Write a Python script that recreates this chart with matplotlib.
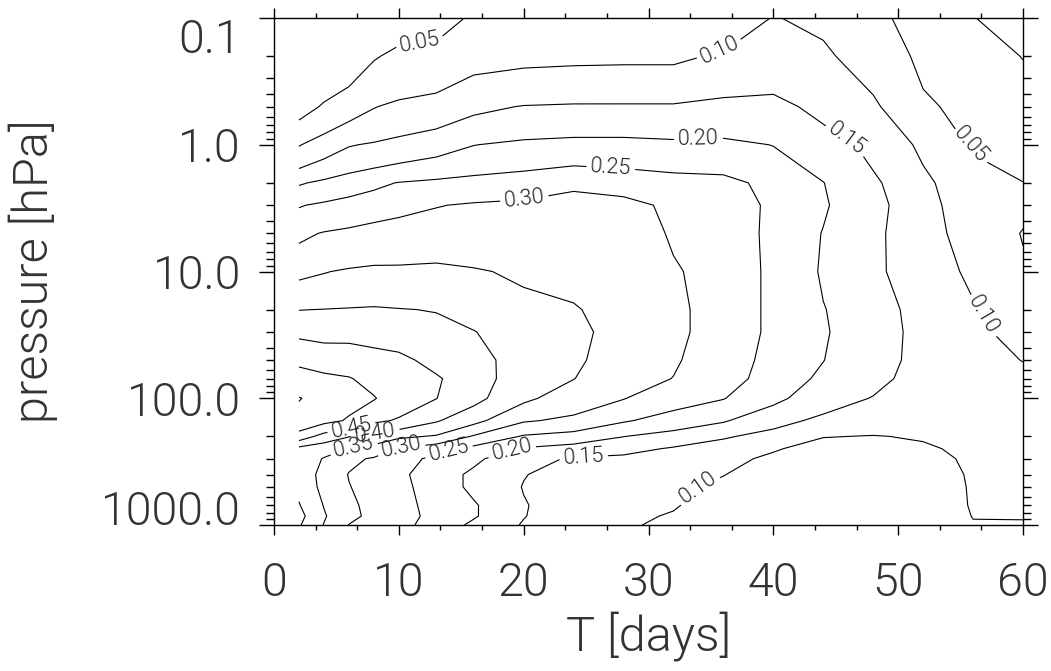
import numpy as np
import matplotlib
matplotlib.use("Agg")
import matplotlib.pyplot as plt
from matplotlib.ticker import MultipleLocator, FixedLocator, NullFormatter

plt.rcParams['font.family'] = ['Roboto', 'DejaVu Sans']
plt.rcParams['font.weight'] = 300
plt.rcParams['axes.labelweight'] = 300

# lead time of each column (days) and pressure of each row (hPa)
days = [2, 4, 6, 8, 10, 13, 16, 20, 24, 28, 32, 36, 40, 44, 48, 52, 56, 60]
pres = [1000, 850, 700, 500, 400, 300, 250, 200, 150, 100, 70, 50, 30, 20, 10,
        5, 3, 2, 1, 0.5, 0.2, 0.1]

# one column per lead time, from 1000 hPa up to 0.1 hPa
t02 = [0.405, 0.415, 0.403, 0.39, 0.38, 0.38, 0.385, 0.48, 0.535, 0.552, 0.52,
       0.49, 0.44, 0.399, 0.34, 0.29, 0.247, 0.195, 0.097, 0.032, 0.015, 0.01]
t04 = [0.348, 0.355, 0.348, 0.335, 0.335, 0.347, 0.37, 0.43, 0.515, 0.535, 0.51,
       0.48, 0.435, 0.401, 0.348, 0.303, 0.258, 0.21, 0.125, 0.0545, 0.02, 0.01]
t06 = [0.299, 0.31, 0.31, 0.302, 0.298, 0.31, 0.348, 0.402, 0.495, 0.515, 0.503,
       0.475, 0.437, 0.403, 0.355, 0.31, 0.268, 0.225, 0.147, 0.0787, 0.022, 0.012]
t08 = [0.285, 0.29, 0.285, 0.28, 0.28, 0.295, 0.33, 0.385, 0.46, 0.503, 0.485,
       0.465, 0.435, 0.405, 0.358, 0.32, 0.275, 0.24, 0.155, 0.098, 0.047, 0.025]
t10 = [0.265, 0.27, 0.27, 0.265, 0.26, 0.275, 0.295, 0.36, 0.445, 0.475, 0.47,
       0.46, 0.43, 0.402, 0.357, 0.325, 0.285, 0.252, 0.165, 0.11, 0.058, 0.035]
t13 = [0.23, 0.235, 0.23, 0.225, 0.225, 0.235, 0.27, 0.345, 0.405, 0.451, 0.455,
       0.437, 0.415, 0.398, 0.36, 0.325, 0.298, 0.26, 0.18, 0.12, 0.065, 0.035]
t16 = [0.19, 0.205, 0.205, 0.19, 0.19, 0.21, 0.235, 0.295, 0.365, 0.415, 0.425,
       0.42, 0.402, 0.38, 0.353, 0.33, 0.305, 0.267, 0.199, 0.14, 0.085, 0.055]
t20 = [0.146, 0.152, 0.153, 0.148, 0.152, 0.165, 0.195, 0.245, 0.305, 0.36, 0.37,
       0.375, 0.37, 0.36, 0.345, 0.33, 0.31, 0.275, 0.21, 0.152, 0.09, 0.06]
t24 = [0.115, 0.12, 0.125, 0.125, 0.13, 0.145, 0.18, 0.23, 0.29, 0.325, 0.351,
       0.357, 0.36, 0.353, 0.34, 0.33, 0.32, 0.29, 0.215, 0.155, 0.092, 0.065]
t28 = [0.103, 0.105, 0.11, 0.115, 0.12, 0.14, 0.165, 0.201, 0.255, 0.302, 0.32,
       0.33, 0.335, 0.335, 0.33, 0.325, 0.315, 0.28, 0.215, 0.155, 0.093, 0.07]
t32 = [0.095, 0.098, 0.102, 0.108, 0.115, 0.13, 0.145, 0.18, 0.23, 0.27, 0.299,
       0.305, 0.31, 0.31, 0.305, 0.295, 0.29, 0.27, 0.21, 0.155, 0.093, 0.075]
t36 = [0.085, 0.085, 0.088, 0.092, 0.101, 0.115, 0.13, 0.155, 0.205, 0.252, 0.27,
       0.275, 0.28, 0.28, 0.28, 0.275, 0.27, 0.265, 0.21, 0.165, 0.105, 0.085]
t40 = [0.073, 0.073, 0.075, 0.078, 0.082, 0.09, 0.105, 0.135, 0.165, 0.213, 0.23,
       0.235, 0.24, 0.24, 0.24, 0.24, 0.243, 0.235, 0.199, 0.165, 0.12, 0.101]
t44 = [0.062, 0.062, 0.062, 0.065, 0.068, 0.072, 0.08, 0.102, 0.14, 0.17, 0.19,
       0.201, 0.205, 0.202, 0.195, 0.198, 0.205, 0.201, 0.175, 0.135, 0.105, 0.095]
t48 = [0.065, 0.065, 0.065, 0.067, 0.07, 0.075, 0.082, 0.098, 0.125, 0.148, 0.162,
       0.163, 0.168, 0.17, 0.16, 0.16, 0.165, 0.158, 0.138, 0.107, 0.085, 0.065]
t52 = [0.075, 0.075, 0.075, 0.075, 0.078, 0.085, 0.094, 0.104, 0.115, 0.128, 0.133,
       0.14, 0.138, 0.133, 0.122, 0.12, 0.118, 0.112, 0.09, 0.06, 0.038, 0.025]
t56 = [0.098, 0.101, 0.103, 0.104, 0.105, 0.108, 0.11, 0.112, 0.115, 0.118, 0.117,
       0.115, 0.11, 0.105, 0.092, 0.078, 0.07, 0.062, 0.048, 0.03, 0.015, 0.002]
t60 = [0.097, 0.102, 0.106, 0.11, 0.115, 0.12, 0.122, 0.125, 0.125, 0.12, 0.11,
       0.099, 0.085, 0.07, 0.056, 0.048, 0.058, 0.0505, 0.038, 0.02, -0.001, -0.03]

levels = [0.0, 0.05, 0.10, 0.15, 0.20, 0.25, 0.30, 0.35, 0.40, 0.45, 0.50, 0.55]

# where the contour labels sit, per level: [(day, hPa), ...]
label_spots = {
    0.05: [(11.7, 0.155), (55.8, 1.0)],
    0.10: [(35.6, 0.166), (57.2, 21.0), (33.9, 500.0)],
    0.15: [(45.9, 0.88), (24.8, 290.0)],
    0.20: [(34.0, 0.85), (19.0, 247.0)],
    0.25: [(27.0, 1.42), (14.1, 281.0)],
    0.30: [(20.0, 2.49), (10.2, 251.0)],
    0.35: [(6.4, 247.0)],
    0.40: [(7.9, 138.0)],
    0.45: [(5.9, 128.0)],
}

field = np.column_stack([t02, t04, t06, t08, t10, t13, t16, t20, t24, t28,
                         t32, t36, t40, t44, t48, t52, t56, t60])

fig = plt.figure(figsize=(10.51, 6.71), dpi=100)
ax = fig.add_axes([274 / 1051, 1 - 525 / 671, 749 / 1051, 507 / 671])

ax.set_yscale('log')
ax.set_xlim(0, 60)
ax.set_ylim(1000, 0.1)

# one contour set per level so each label lands on its own line
for lev in levels:
    cs = ax.contour(days, pres, field, levels=[lev], colors='k', linewidths=0.8)
    if lev in label_spots:
        ax.clabel(cs, manual=label_spots[lev], fmt='%.2f', fontsize=15.5,
                  inline=True, inline_spacing=4, colors='#222222')

# axes, ticks
ax.xaxis.set_major_locator(FixedLocator([0, 10, 20, 30, 40, 50, 60]))
ax.xaxis.set_minor_locator(MultipleLocator(10 / 3))
ax.yaxis.set_major_locator(FixedLocator([0.1, 1, 10, 100, 1000]))
ax.yaxis.set_minor_locator(FixedLocator([m * 10.0 ** k for k in range(-1, 3) for m in range(2, 10)]))
ax.yaxis.set_minor_formatter(NullFormatter())
ax.set_yticklabels(['0.1', '1.0', '10.0', '100.0', '1000.0'])

for s in ax.spines.values():
    s.set_linewidth(1.0)
ax.tick_params(which='both', direction='out', top=True, right=True, width=1.0)
ax.tick_params(axis='x', which='major', length=7.2, labelsize=33.5, pad=18.5, labelcolor='#333333')
ax.tick_params(axis='x', which='minor', length=3.6)
ax.tick_params(axis='y', which='major', length=10.8, labelsize=33.5, pad=13, labelcolor='#333333')
ax.tick_params(axis='y', which='minor', length=5.8)

# end labels on the pressure axis are pulled inside, as in the original
yt = ax.yaxis.get_major_ticks()
yt[0].label1.set_verticalalignment('top')
yt[-1].label1.set_verticalalignment('baseline')

ax.set_xlabel('T [days]', fontsize=35, color='#333333')
ax.xaxis.set_label_coords(0.5, -0.17)
ax.set_ylabel('pressure [hPa]', fontsize=35, color='#333333')
ax.yaxis.set_label_coords(-0.288, 0.5)

fig.savefig('out.png', dpi=100)
